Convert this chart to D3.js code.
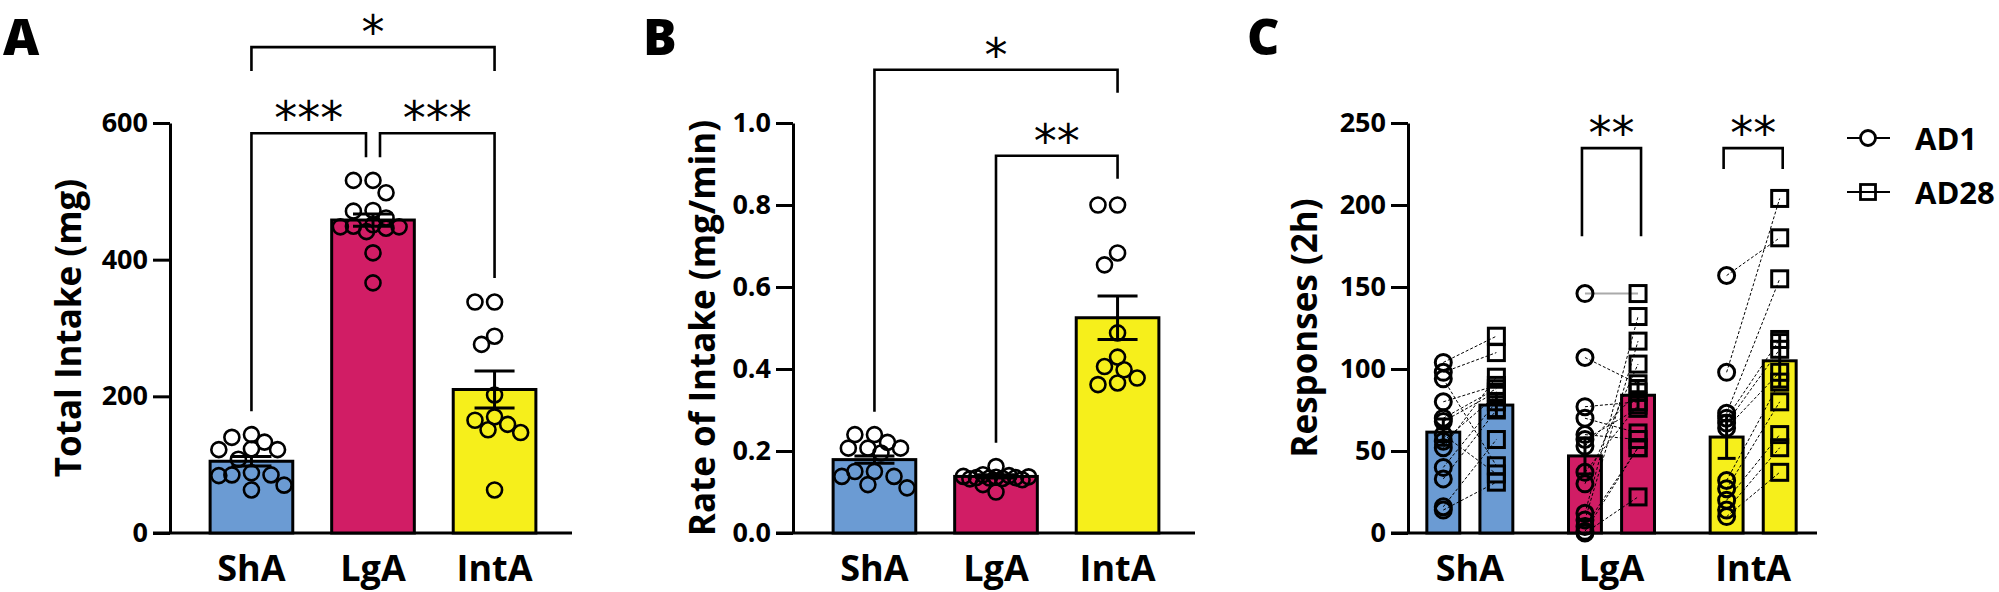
<!DOCTYPE html>
<html>
<head>
<meta charset="utf-8">
<script src="https://cdn.jsdelivr.net/npm/d3@7"></script>
<style>
  body { margin: 0; background: #fff; }
  svg { display: block; font-family: "Open Sans", "Noto Sans", sans-serif; font-weight: 700; }
</style>
</head>
<body>
<div id="chart"></div>
<script>
// groupes et couleurs
const groups = ["ShA", "LgA", "IntA"];
const colors = ["#6b9bd3", "#d11d65", "#f6ef1b"];

// A : Total Intake (mg)
const intakeMean = [105, 458, 210];
const intakeSem = [7, 9, 27];
const intakeShA = [144, 140, 133, 123, 122, 122, 108, 88, 85, 85, 84, 70, 63];
const intakeLgA = [516, 516, 498, 472, 471, 461, 451, 449, 448, 448, 446, 441, 410, 366];
const intakeIntA = [338, 338, 288, 276, 202, 170, 165, 159, 151, 147, 63];
const intakeTicks = [0, 200, 400, 600];

// B : Rate of Intake (mg/min)
const rateMean = [0.179, 0.138, 0.525];
const rateSem = [0.009, 0.004, 0.053];
const rateShA = [0.24, 0.24, 0.221, 0.207, 0.207, 0.207, 0.195, 0.15, 0.15, 0.138, 0.138, 0.118, 0.11];
const rateLgA = [0.162, 0.142, 0.14, 0.138, 0.137, 0.136, 0.135, 0.135, 0.134, 0.133, 0.132, 0.13, 0.118, 0.1];
const rateIntA = [0.8, 0.8, 0.683, 0.654, 0.488, 0.429, 0.406, 0.398, 0.378, 0.366, 0.362];
const rateTicks = [0, 0.2, 0.4, 0.6, 0.8, 1.0];

// C : Responses (2h), AD1 vs AD28 (paires par animal)
const days = ["AD1", "AD28"];
const respMeanAD1 = [61.5, 47, 58.5];
const respMeanAD28 = [78, 84, 105];
const respSemAD1 = [8, 11, 13];
const respSemAD28 = [7, 9, 16];
const respShA_AD1 = [104, 98, 94, 80, 70, 68, 60, 56, 52, 40, 33, 16, 14];
const respShA_AD28 = [120, 110, 41, 90, 88, 86, 36, 84, 95, 80, 75, 57, 31];
const respLgA_AD1 = [146, 107, 77, 70, 60, 57, 53, 37, 30, 12, 8, 4, 1, 0];
const respLgA_AD28 = [146, 91, 80, 61, 57, 76, 86, 78, 103, 132, 117, 52, 52, 22];
const respIntA_AD1 = [157, 98, 73, 70, 67, 64, 32, 27, 20, 14, 10];
const respIntA_AD28 = [180, 204, 155, 118, 112, 98, 92, 80, 60, 52, 37];
const respTicks = [0, 50, 100, 150, 200, 250];

// comparaisons : niveaux en unités de données
const compA = [
  { a: "ShA", b: "LgA", label: "***", top: 585, legA: 178, legB: 550, shiftB: -7 },
  { a: "LgA", b: "IntA", label: "***", top: 585, legA: 550, legB: 373, shiftA: 7 },
  { a: "ShA", b: "IntA", label: "*", top: 711, legA: 676, legB: 676 }
];
const compB = [
  { a: "ShA", b: "IntA", label: "*", top: 1.13, legA: 0.296, legB: 1.074 },
  { a: "LgA", b: "IntA", label: "**", top: 0.92, legA: 0.22, legB: 0.864 }
];
const compC = [
  { g: "LgA", label: "**", top: 234.7, leg: 181 },
  { g: "IntA", label: "**", top: 234.7, leg: 222 }
];

const width = window.innerWidth;
const height = window.innerHeight;
const yBottom = 533, yTop = 123;
const dotR = 7.5;

const svg = d3.select("#chart").append("svg")
  .attr("width", width)
  .attr("height", height);

// disposition en essaim (calculée à partir des valeurs)
function swarm(values, y, r, maxOff) {
  const pts = values.map(v => ({ v: v, py: y(v), dx: 0 }));
  const order = pts.slice().sort((a, b) => b.v - a.v);
  const half = r * 0.87;
  const cands = [0];
  for (let k = 1; k * half <= maxOff + 0.1; k++) cands.push(-k * half, k * half);
  const placed = [];
  order.forEach(p => {
    let best = 0, bestD = -1;
    for (const c of cands) {
      let md = Infinity;
      placed.forEach(q => {
        const d = Math.hypot(q.dx - c, q.py - p.py);
        if (d < md) md = d;
      });
      if (md >= 2 * r * 0.95) { best = c; bestD = md; break; }
      if (md > bestD) { bestD = md; best = c; }
    }
    p.dx = best;
    placed.push(p);
  });
  return pts;
}

function yAxis(g, y, ticks, fmt, x0) {
  const ax = g.append("g")
    .attr("transform", "translate(" + x0 + ",0)")
    .call(d3.axisLeft(y).tickValues(ticks).tickFormat(fmt).tickSize(17).tickPadding(5).tickSizeOuter(0));
  ax.select(".domain").attr("stroke", "#000").attr("stroke-width", 3);
  ax.selectAll(".tick line").attr("stroke", "#000").attr("stroke-width", 3);
  ax.selectAll(".tick text")
    .attr("fill", "#000")
    .style("font-size", "27px")
    .style("font-family", "'Open Sans', 'Noto Sans', sans-serif")
    .style("font-weight", 700);
}

function xAxisLine(g, x0, x1) {
  g.append("line")
    .attr("x1", x0 - 17).attr("x2", x1)
    .attr("y1", yBottom).attr("y2", yBottom)
    .attr("stroke", "#000").attr("stroke-width", 3);
}

function yLabel(g, text, cx) {
  g.append("text")
    .attr("transform", "translate(" + cx + "," + (yBottom + yTop) / 2 + ") rotate(-90)")
    .attr("text-anchor", "middle")
    .attr("dominant-baseline", "central")
    .style("font-size", "35px")
    .text(text);
}

function panelLetter(text, x) {
  svg.append("text")
    .attr("x", x).attr("y", 55)
    .style("font-size", "50px")
    .style("font-weight", 800)
    .text(text);
}

function star(g, text, cx, lineY) {
  g.append("text")
    .attr("x", cx).attr("y", lineY + 1)
    .attr("text-anchor", "middle")
    .style("font-size", "46px")
    .style("font-family", "'DejaVu Sans', sans-serif")
    .style("font-weight", 400)
    .text(text);
}

function bracketPath(g, pts) {
  g.append("path")
    .attr("d", d3.line()(pts))
    .attr("fill", "none")
    .attr("stroke", "#000")
    .attr("stroke-width", 2.6);
}

// panneaux A et B
function barPanel(opts) {
  const g = svg.append("g");
  const y = d3.scaleLinear().domain(opts.domain).range([yBottom, yTop]);
  const x = d3.scaleBand().domain(groups).range([opts.x0, opts.x1])
    .paddingInner(0.32).paddingOuter(0.33);
  const bw = x.bandwidth();

  xAxisLine(g, opts.x0, opts.x1 - 4);

  g.selectAll("rect.bar").data(groups).join("rect")
    .attr("class", "bar")
    .attr("x", d => x(d))
    .attr("y", (d, i) => y(opts.mean[i]))
    .attr("width", bw)
    .attr("height", (d, i) => y(0) - y(opts.mean[i]))
    .attr("fill", (d, i) => colors[i])
    .attr("stroke", "#000")
    .attr("stroke-width", 3);

  groups.forEach((grp, i) => {
    const cx = x(grp) + bw / 2;
    const pts = swarm(opts.points[i], y, dotR, bw / 2 - dotR + 0.5);
    g.selectAll(null).data(pts).join("circle")
      .attr("cx", d => cx + d.dx)
      .attr("cy", d => d.py)
      .attr("r", dotR)
      .attr("fill", "none")
      .attr("stroke", "#000")
      .attr("stroke-width", 2.6);

    const m = opts.mean[i], s = opts.sem[i];
    g.append("line")
      .attr("x1", cx).attr("x2", cx)
      .attr("y1", y(m - s)).attr("y2", y(m + s))
      .attr("stroke", "#000").attr("stroke-width", 3);
    [m - s, m + s].forEach(v => {
      g.append("line")
        .attr("x1", cx - 20).attr("x2", cx + 20)
        .attr("y1", y(v)).attr("y2", y(v))
        .attr("stroke", "#000").attr("stroke-width", 3);
    });
  });

  yAxis(g, y, opts.ticks, opts.fmt, opts.x0);
  yLabel(g, opts.label, opts.labelX);

  g.selectAll("text.grp").data(groups).join("text")
    .attr("class", "grp")
    .attr("x", d => x(d) + bw / 2)
    .attr("y", 581)
    .attr("text-anchor", "middle")
    .style("font-size", "36px")
    .text(d => d);

  opts.comps.forEach(c => {
    const xa = x(c.a) + bw / 2 + (c.shiftA || 0);
    const xb = x(c.b) + bw / 2 + (c.shiftB || 0);
    bracketPath(g, [[xa, y(c.legA)], [xa, y(c.top)], [xb, y(c.top)], [xb, y(c.legB)]]);
    star(g, c.label, (xa + xb) / 2, y(c.top));
  });
}

barPanel({
  x0: 170, x1: 576, domain: [0, 600],
  mean: intakeMean, sem: intakeSem,
  points: [intakeShA, intakeLgA, intakeIntA],
  ticks: intakeTicks, fmt: d3.format("d"),
  label: "Total Intake (mg)", labelX: 67,
  comps: compA
});

barPanel({
  x0: 793, x1: 1199, domain: [0, 1],
  mean: rateMean, sem: rateSem,
  points: [rateShA, rateLgA, rateIntA],
  ticks: rateTicks, fmt: d3.format(".1f"),
  label: "Rate of Intake (mg/min)", labelX: 701,
  comps: compB
});

// panneau C : barres groupées + lignes appariées
(function () {
  const g = svg.append("g");
  const x0 = 1408, x1 = 1815;
  const y = d3.scaleLinear().domain([0, 250]).range([yBottom, yTop]);
  const x = d3.scaleBand().domain(groups).range([x0, x1]).paddingInner(0.393).paddingOuter(0.133);
  const xi = d3.scaleBand().domain(days).range([0, x.bandwidth()]).paddingInner(0.38).paddingOuter(0);
  const bw = xi.bandwidth();
  const means = [respMeanAD1, respMeanAD28];
  const sems = [respSemAD1, respSemAD28];
  const pairs = [[respShA_AD1, respShA_AD28], [respLgA_AD1, respLgA_AD28], [respIntA_AD1, respIntA_AD28]];

  xAxisLine(g, x0, x1 + 2);

  groups.forEach((grp, i) => {
    days.forEach((day, j) => {
      g.append("rect")
        .attr("x", x(grp) + xi(day))
        .attr("y", y(means[j][i]))
        .attr("width", bw)
        .attr("height", y(0) - y(means[j][i]))
        .attr("fill", colors[i])
        .attr("stroke", "#000")
        .attr("stroke-width", 3);
    });
  });

  groups.forEach((grp, i) => {
    const cA = x(grp) + xi("AD1") + bw / 2;
    const cB = x(grp) + xi("AD28") + bw / 2;
    const a1 = pairs[i][0], a28 = pairs[i][1];

    a1.forEach((v, k) => {
      const same = v === a28[k];
      g.append("line")
        .attr("x1", cA).attr("y1", y(v))
        .attr("x2", cB).attr("y2", y(a28[k]))
        .attr("stroke", same ? "#aaa" : "#000")
        .attr("stroke-width", same ? 2 : 1)
        .attr("stroke-dasharray", same ? null : "3,2");
    });

    g.selectAll(null).data(a1).join("circle")
      .attr("cx", cA).attr("cy", d => y(d))
      .attr("r", 8)
      .attr("fill", "none").attr("stroke", "#000").attr("stroke-width", 3);

    g.selectAll(null).data(a28).join("rect")
      .attr("x", cB - 8).attr("y", d => y(d) - 8)
      .attr("width", 16).attr("height", 16)
      .attr("fill", "none").attr("stroke", "#000").attr("stroke-width", 3);

    [cA, cB].forEach((cx, j) => {
      const m = means[j][i], s = sems[j][i];
      g.append("line")
        .attr("x1", cx).attr("x2", cx)
        .attr("y1", y(m - s)).attr("y2", y(m + s))
        .attr("stroke", "#000").attr("stroke-width", 3);
      [m - s, m + s].forEach(v => {
        g.append("line")
          .attr("x1", cx - 9).attr("x2", cx + 9)
          .attr("y1", y(v)).attr("y2", y(v))
          .attr("stroke", "#000").attr("stroke-width", 3);
      });
    });
  });

  yAxis(g, y, respTicks, d3.format("d"), x0);
  yLabel(g, "Responses (2h)", 1303);

  g.selectAll("text.grp").data(groups).join("text")
    .attr("class", "grp")
    .attr("x", d => x(d) + x.bandwidth() / 2)
    .attr("y", 581)
    .attr("text-anchor", "middle")
    .style("font-size", "36px")
    .text(d => d);

  compC.forEach(c => {
    const xa = x(c.g) + xi("AD1") + bw / 2 - 3;
    const xb = x(c.g) + xi("AD28") + bw / 2 + 3;
    bracketPath(g, [[xa, y(c.leg)], [xa, y(c.top)], [xb, y(c.top)], [xb, y(c.leg)]]);
    star(g, c.label, (xa + xb) / 2, y(c.top));
  });

  // légende
  const leg = g.append("g");
  days.forEach((day, j) => {
    const ly = 138 + j * 54;
    leg.append("line")
      .attr("x1", 1847).attr("x2", 1890)
      .attr("y1", ly).attr("y2", ly)
      .attr("stroke", "#000").attr("stroke-width", 2);
    if (j === 0) {
      leg.append("circle").attr("cx", 1868).attr("cy", ly).attr("r", 7.5)
        .attr("fill", "#fff").attr("stroke", "#000").attr("stroke-width", 2.8);
    } else {
      leg.append("rect").attr("x", 1860.5).attr("y", ly - 7.5).attr("width", 15).attr("height", 15)
        .attr("fill", "none").attr("stroke", "#000").attr("stroke-width", 2.8);
    }
    leg.append("text")
      .attr("x", 1915).attr("y", ly)
      .attr("dominant-baseline", "central")
      .style("font-size", "31px")
      .text(day);
  });
})();

panelLetter("A", 3);
panelLetter("B", 643);
panelLetter("C", 1247);
</script>
</body>
</html>
